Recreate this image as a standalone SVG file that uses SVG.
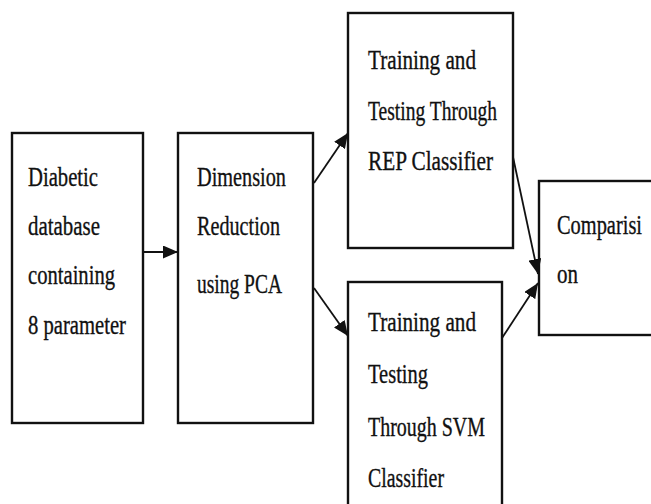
<svg xmlns="http://www.w3.org/2000/svg" width="651" height="504" viewBox="0 0 651 504">
  <style>
    .box { fill: #ffffff; stroke: #111111; stroke-width: 2.4; }
    .lbl { font-family: "Liberation Serif", "Times New Roman", serif; font-size: 28px; fill: #111111; stroke: #111111; stroke-width: 0.35; }
    .conn { stroke: #111111; stroke-width: 1.8; fill: none; marker-end: url(#head); }
  </style>
  <defs>
    <marker id="head" markerUnits="userSpaceOnUse" markerWidth="15" markerHeight="13" refX="15" refY="6.5" orient="auto">
      <path d="M0,0 L15,6.5 L0,13 z" fill="#111111"/>
    </marker>
  </defs>
  <rect width="651" height="504" fill="#ffffff"/>

  <g id="node-database">
    <rect class="box" x="12" y="133" width="131" height="290"/>
    <text class="lbl" x="28" y="186" textLength="70" lengthAdjust="spacingAndGlyphs">Diabetic</text>
    <text class="lbl" x="28" y="235" textLength="72" lengthAdjust="spacingAndGlyphs">database</text>
    <text class="lbl" x="28" y="284" textLength="87" lengthAdjust="spacingAndGlyphs">containing</text>
    <text class="lbl" x="28" y="334" textLength="98" lengthAdjust="spacingAndGlyphs">8 parameter</text>
  </g>

  <g id="node-pca">
    <rect class="box" x="178" y="133" width="135" height="290"/>
    <text class="lbl" x="197" y="186" textLength="89" lengthAdjust="spacingAndGlyphs">Dimension</text>
    <text class="lbl" x="197" y="235" textLength="83" lengthAdjust="spacingAndGlyphs">Reduction</text>
    <text class="lbl" x="197" y="293" textLength="85" lengthAdjust="spacingAndGlyphs">using PCA</text>
  </g>

  <g id="node-rep">
    <rect class="box" x="348" y="13" width="165" height="235"/>
    <text class="lbl" x="368" y="69" textLength="108" lengthAdjust="spacingAndGlyphs">Training and</text>
    <text class="lbl" x="368" y="120" textLength="129" lengthAdjust="spacingAndGlyphs">Testing Through</text>
    <text class="lbl" x="368" y="170" textLength="125" lengthAdjust="spacingAndGlyphs">REP Classifier</text>
  </g>

  <g id="node-svm">
    <rect class="box" x="348" y="282" width="154" height="240"/>
    <text class="lbl" x="368" y="331" textLength="108" lengthAdjust="spacingAndGlyphs">Training and</text>
    <text class="lbl" x="368" y="383" textLength="60" lengthAdjust="spacingAndGlyphs">Testing</text>
    <text class="lbl" x="368" y="436" textLength="117" lengthAdjust="spacingAndGlyphs">Through SVM</text>
    <text class="lbl" x="368" y="487" textLength="76" lengthAdjust="spacingAndGlyphs">Classifier</text>
  </g>

  <g id="node-comparison">
    <rect class="box" x="539" y="181" width="114" height="154"/>
    <text class="lbl" x="557" y="234" textLength="85" lengthAdjust="spacingAndGlyphs">Comparisi</text>
    <text class="lbl" x="557" y="283" textLength="21" lengthAdjust="spacingAndGlyphs">on</text>
  </g>

  <g id="connectors">
    <line class="conn" x1="143" y1="252" x2="178" y2="252"/>
    <line class="conn" x1="314" y1="183" x2="348" y2="133"/>
    <line class="conn" x1="314" y1="288" x2="348" y2="336"/>
    <line class="conn" x1="513" y1="157" x2="538" y2="274"/>
    <line class="conn" x1="502" y1="338" x2="538" y2="283"/>
  </g>
</svg>
